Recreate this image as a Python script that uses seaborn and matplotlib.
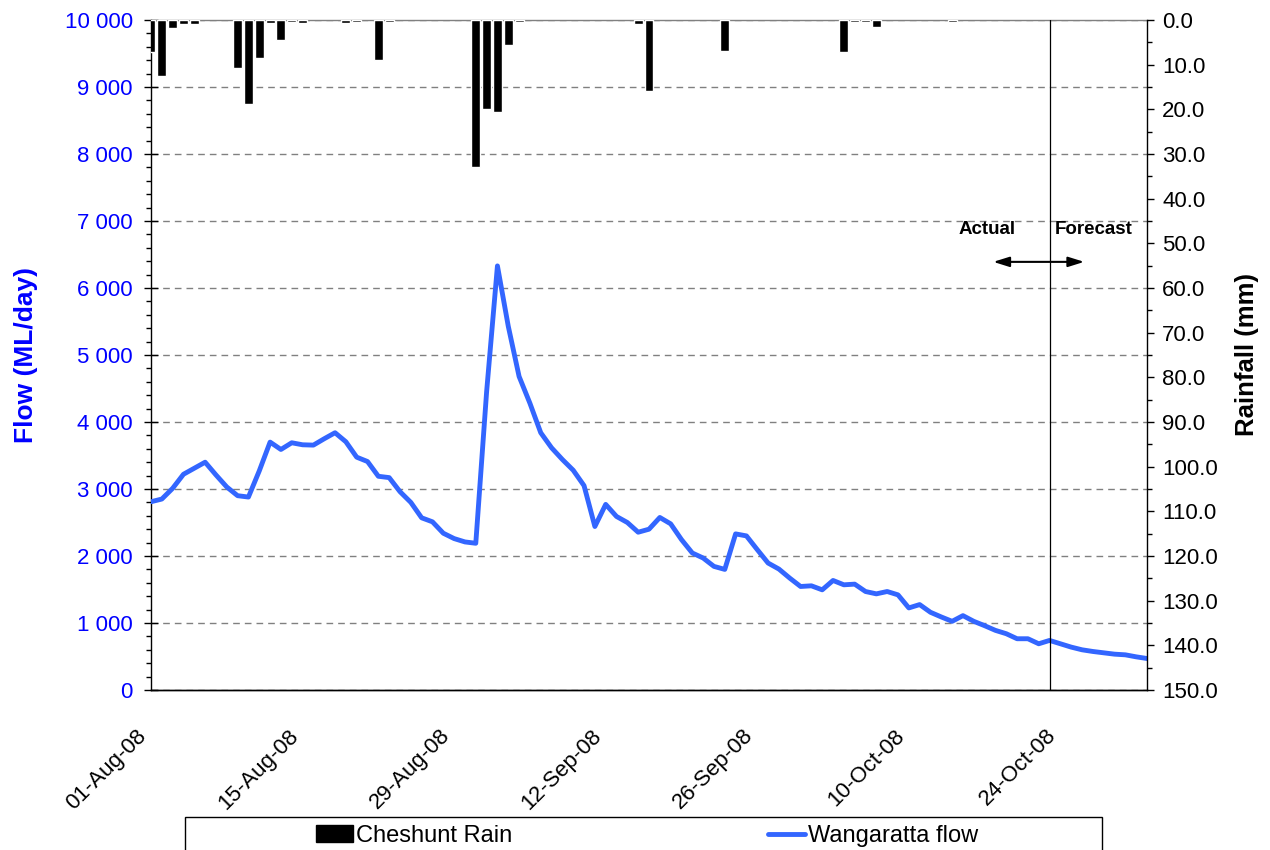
import pandas as pd
import numpy as np
import matplotlib
matplotlib.use("Agg")
import matplotlib.pyplot as plt
import matplotlib.dates as mdates
import matplotlib.ticker as mticker
from matplotlib.patches import Patch, Rectangle
from matplotlib.lines import Line2D
import seaborn as sns

# ---- data ----
start_date = "2008-08-01"
end_date = "2008-11-01"
forecast_date = "2008-10-23"

# Wangaratta flow (ML/day), one value per day from 01-Aug-08
flow = [2810, 2850, 3010, 3220, 3310, 3400, 3210, 3030, 2900, 2880,
        3270, 3700, 3590, 3690, 3660, 3655, 3750, 3840, 3705, 3475,
        3410, 3190, 3170, 2960, 2800, 2570, 2510, 2340, 2260, 2210,
        2190, 4450, 6330, 5430, 4680, 4280, 3840, 3615, 3440, 3280,
        3050, 2440, 2770, 2590, 2500, 2355, 2400, 2575, 2480, 2245,
        2045, 1970, 1845, 1800, 2330, 2300, 2095, 1895, 1805, 1670,
        1545, 1555, 1495, 1635, 1570, 1580, 1470, 1435, 1470, 1420,
        1225, 1275, 1160, 1090, 1025, 1110, 1025, 960, 890, 840,
        765, 765, 690, 740, 690, 640, 600, 575, 555, 535,
        525, 495, 470]

# Cheshunt rain (mm), days with rain only
rain_dates = ["2008-08-01", "2008-08-02", "2008-08-03", "2008-08-04", "2008-08-05",
              "2008-08-09", "2008-08-10", "2008-08-11", "2008-08-12", "2008-08-13",
              "2008-08-14", "2008-08-15", "2008-08-19", "2008-08-20", "2008-08-22",
              "2008-08-23", "2008-08-31", "2008-09-01", "2008-09-02", "2008-09-03",
              "2008-09-04", "2008-09-15", "2008-09-16", "2008-09-23", "2008-10-04",
              "2008-10-05", "2008-10-06", "2008-10-07", "2008-10-14"]
rain_mm = [7.1, 12.5, 1.9, 0.9, 0.9,
           10.8, 18.9, 8.6, 0.7, 4.5,
           0.5, 0.7, 0.7, 0.5, 9.0,
           0.5, 32.8, 19.9, 20.7, 5.6,
           0.5, 0.9, 16.0, 6.9, 7.1,
           0.5, 0.5, 1.5, 0.5]

flow_df = pd.DataFrame({"date": pd.date_range(start_date, periods=len(flow), freq="D"),
                        "flow": flow})
rain_df = pd.DataFrame({"date": pd.to_datetime(rain_dates), "rain": rain_mm})

# ---- style ----
FLOW_BLUE = "#3366FF"
LABEL_BLUE = "#0000FF"
GRID_GREY = "#808080"

sns.set_style("white")
plt.rcParams["font.family"] = ["Liberation Sans", "DejaVu Sans"]
plt.rcParams["text.color"] = "black"
plt.rcParams["axes.labelcolor"] = "black"
plt.rcParams["xtick.color"] = "black"
plt.rcParams["ytick.color"] = "black"

W, H = 1270, 850
fig = plt.figure(figsize=(W / 100, H / 100), dpi=100)
ax = fig.add_axes([151 / W, 160 / H, 996 / W, 670 / H])
ax2 = ax.twinx()

# flow line
sns.lineplot(data=flow_df, x="date", y="flow", ax=ax, color=FLOW_BLUE,
             linewidth=3.5, zorder=3)
ax.lines[0].set_solid_joinstyle("round")

# rainfall bars on inverted right axis
ax2.bar(rain_df["date"], rain_df["rain"], width=0.83, color="black", zorder=2)
ax2.set_ylim(150, 0)

# actual / forecast divider
fdate = pd.Timestamp(forecast_date)
ax.axvline(fdate, color="black", linewidth=0.9, zorder=4)
ax.annotate("", xy=(fdate + pd.Timedelta(days=3.2), 6390),
            xytext=(fdate - pd.Timedelta(days=5.2), 6390),
            arrowprops=dict(arrowstyle="<|-|>,head_length=0.8,head_width=0.25",
                            color="black", lw=1.5,
                            mutation_scale=12, shrinkA=0, shrinkB=0))
ax.text(fdate - pd.Timedelta(days=5.8), 6880, "Actual", ha="center", va="center",
        fontsize=13.5, fontweight="bold")
ax.text(fdate + pd.Timedelta(days=4.1), 6880, "Forecast", ha="center", va="center",
        fontsize=13.5, fontweight="bold")

# ---- axes ----
ax.set_xlim(pd.Timestamp(start_date), pd.Timestamp(end_date))
ax.set_ylim(0, 10000)
ax.yaxis.set_major_locator(mticker.MultipleLocator(1000))
ax.yaxis.set_minor_locator(mticker.MultipleLocator(200))
ax.yaxis.set_major_formatter(mticker.FuncFormatter(
    lambda v, p: f"{int(v):,}".replace(",", " ")))
ax2.yaxis.set_major_locator(mticker.MultipleLocator(10))
ax2.yaxis.set_minor_locator(mticker.MultipleLocator(5))
ax2.yaxis.set_major_formatter(mticker.FuncFormatter(lambda v, p: f"{v:.1f}"))

ax.set_xticks(pd.date_range(start_date, "2008-10-24", freq="14D"))
ax.xaxis.set_minor_locator(mdates.DayLocator())
ax.xaxis.set_major_formatter(mdates.DateFormatter("%d-%b-%y"))

ax.grid(axis="y", which="major", color=GRID_GREY, linewidth=1.0,
        linestyle=(0, (4.8, 3.6)))
ax.grid(axis="x", visible=False)
ax.set_axisbelow(True)

for a in (ax, ax2):
    for s in a.spines.values():
        s.set_color("black")
        s.set_linewidth(1.0)
    a.spines["top"].set_visible(False)
ax.spines["top"].set_visible(True)
ax.spines["top"].set_color(GRID_GREY)
ax2.spines["left"].set_visible(False)
ax.spines["right"].set_visible(False)

ax.tick_params(axis="x", which="major", direction="out", length=5, width=1,
               labelsize=16, pad=31, colors="black")
ax.tick_params(axis="x", which="minor", direction="in", length=3.6, width=1)
ax.tick_params(axis="y", which="major", direction="inout", length=10, width=1,
               labelsize=16, labelcolor=LABEL_BLUE, color="black", pad=8)
ax.tick_params(axis="y", which="minor", direction="out", length=3.6, width=1,
               color="black")
ax2.tick_params(axis="y", which="major", direction="out", length=5, width=1,
                labelsize=16, pad=6, color="black", labelcolor="black")
ax2.tick_params(axis="y", which="minor", direction="out", length=3.6, width=1,
                color="black")

for lbl in ax.get_xticklabels():
    lbl.set_rotation(45)
    lbl.set_ha("right")
    lbl.set_va("bottom")
    lbl.set_rotation_mode("anchor")

ax.set_xlabel("")
ax.set_ylabel("Flow (ML/day)", fontsize=19, fontweight="bold", color=LABEL_BLUE,
              labelpad=19)
ax2.set_ylabel("Rainfall (mm)", fontsize=18.5, fontweight="bold", color="black",
               labelpad=12)

# ---- legend (box runs off the bottom edge) ----
fig.patches.append(Rectangle((185 / W, -20 / H), 917 / W, 53 / H,
                             transform=fig.transFigure, facecolor="none",
                             edgecolor="black", linewidth=1.0))
handles = [Patch(facecolor="black", edgecolor="black"),
           Line2D([], [], color=FLOW_BLUE, linewidth=3.5)]
fig.legend(handles, ["Cheshunt Rain", "Wangaratta flow"], ncol=2,
           loc="center", bbox_to_anchor=(647 / W, 1 - 836 / H), frameon=False,
           fontsize=17, handlelength=1.6, handletextpad=0.12, columnspacing=10.8)

fig.savefig("out.png", dpi=100)
